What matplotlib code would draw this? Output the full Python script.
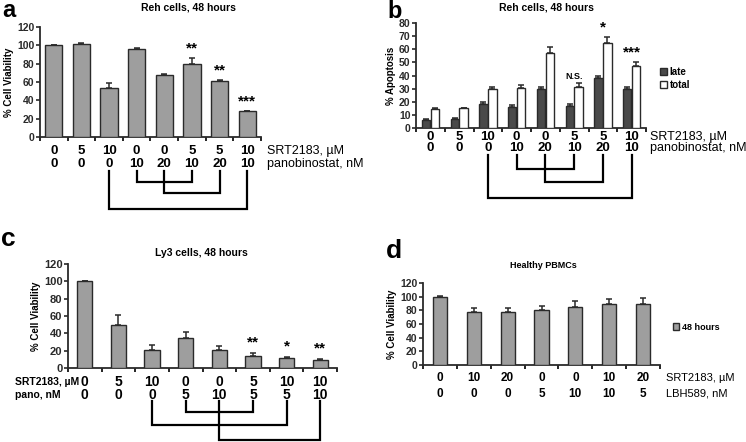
import matplotlib.pyplot as plt
import numpy as np

plt.rcParams['font.family'] = ['Liberation Sans', 'DejaVu Sans']

W, H = 746, 442
BAR = '#9e9e9e'
DARK = '#4a4a4a'
EDGE = '#2a2a2a'

# panel a: Reh cells viability
a_srt = ['0', '5', '10', '0', '0', '5', '5', '10']
a_pano = ['0', '0', '0', '10', '20', '10', '20', '10']
a_vals = [100, 102, 54, 96, 68, 80, 61, 28]
a_err = [0.5, 0.5, 5, 1, 1, 6, 1, 0.5]
a_stars = ['', '', '', '', '', '**', '**', '***']
a_pairs = [(3, 5), (4, 6), (2, 7)]

# panel b: Reh cells apoptosis
b_srt = ['0', '5', '10', '0', '0', '5', '5', '10']
b_pano = ['0', '0', '0', '10', '20', '10', '20', '10']
b_late = [6, 7, 18, 16, 29.5, 17, 38, 29.5]
b_late_err = [0.5, 0.5, 1.5, 1.5, 1.5, 1, 2, 2]
b_total = [14.5, 15, 29.5, 30.5, 57.5, 31.5, 64.5, 47]
b_total_err = [1, 0.5, 1.5, 2, 4, 2.5, 5, 3.5]
b_stars = ['', '', '', '', '', 'N.S.', '*', '***']
b_pairs = [(3, 5), (4, 6), (2, 7)]

# panel c: Ly3 cells viability
c_srt = ['0', '5', '10', '0', '0', '5', '10', '10']
c_pano = ['0', '0', '0', '5', '10', '5', '5', '10']
c_vals = [100, 50, 21, 35, 21, 14, 11, 9]
c_err = [0.5, 11, 6, 6, 4, 3, 2, 1]
c_stars = ['', '', '', '', '', '**', '*', '**']
c_pairs = [(3, 5), (2, 6), (4, 7)]

# panel d: healthy PBMCs
d_srt = ['0', '10', '20', '0', '0', '10', '20']
d_lbh = ['0', '0', '0', '5', '10', '10', '5']
d_vals = [100, 77, 78, 80, 85, 89, 90]
d_err = [0.5, 6, 6, 7, 8, 7, 8]

fig = plt.figure(figsize=(W / 100, H / 100), dpi=100)


def make_ax(left, right, y0, ytop, n, ymax, step, tick_fs):
    ax = fig.add_axes([left / W, 1 - y0 / H, (right - left) / W, (y0 - ytop) / H])
    ax.set_xlim(-0.5, n - 0.5)
    ax.set_ylim(0, ymax)
    ax.set_yticks(np.arange(0, ymax + 1, step))
    ax.set_xticks(np.arange(-0.5, n, 1.0))
    ax.set_xticklabels([])
    for s in ['top', 'right']:
        ax.spines[s].set_visible(False)
    for s in ['left', 'bottom']:
        ax.spines[s].set_linewidth(1.3)
        ax.spines[s].set_color(EDGE)
    ax.tick_params(axis='y', direction='out', length=3, width=1.2, pad=1,
                   labelsize=tick_fs, colors=EDGE)
    ax.tick_params(axis='x', direction='out', length=3, width=1.2)
    for t in ax.get_yticklabels():
        t.set_fontweight('bold')
    ax.patch.set_alpha(0)
    return ax


def rows(ax, y0, ytop, r1, r2, p1, p2, fs, bold=True):
    tr = ax.get_xaxis_transform()
    f = lambda p: (y0 - p) / (y0 - ytop)
    for i, (s1, s2) in enumerate(zip(r1, r2)):
        ax.text(i, f(p1), s1, transform=tr, ha='center', va='center',
                fontsize=fs, fontweight='bold' if bold else 'normal')
        ax.text(i, f(p2), s2, transform=tr, ha='center', va='center',
                fontsize=fs, fontweight='bold' if bold else 'normal')


def brackets(ax, y0, ytop, pairs, ystart, ylevels):
    tr = ax.get_xaxis_transform()
    f = lambda p: (y0 - p) / (y0 - ytop)
    for (i, j), yl in zip(pairs, ylevels):
        ax.plot([i, i, j, j], [f(ystart), f(yl), f(yl), f(ystart)],
                transform=tr, color='black', lw=1.6, clip_on=False,
                solid_joinstyle='miter')


def stars(ax, tops, labels, off, fs=11):
    for i, (t, s) in enumerate(zip(tops, labels)):
        if s:
            small = s == 'N.S.'
            ax.text(i, t + off, s, ha='center', va='bottom',
                    fontsize=6.5 if small else fs, fontweight='bold')


def ptext(x, y, s, **kw):
    fig.text(x / W, 1 - y / H, s, **kw)


ekw = dict(fmt='none', ecolor=EDGE, elinewidth=1.1, capsize=2.5, capthick=1.1)

# ---------------- panel a ----------------
ya0, yat = 137, 27
ax = make_ax(40, 261, ya0, yat, 8, 120, 20, 7.5)
x = np.arange(8)
ax.bar(x, a_vals, 0.62, color=BAR, edgecolor=EDGE, linewidth=1.0, zorder=3)
ax.errorbar(x, a_vals, yerr=[np.zeros(8), a_err], zorder=4, **ekw)
ax.set_ylabel('% Cell Viability', fontsize=7, fontweight='bold', labelpad=2)
stars(ax, np.array(a_vals) + np.array(a_err), a_stars, 3)
rows(ax, ya0, yat, a_srt, a_pano, 151, 164, 9.5)
brackets(ax, ya0, yat, a_pairs, 171, [182, 193, 209])
ptext(267, 151, 'SRT2183, µM', fontsize=9, va='center')
ptext(267, 164, 'panobinostat, nM', fontsize=9, va='center')
ptext(188, 7, 'Reh cells, 48 hours', fontsize=7.5, fontweight='bold', ha='center', va='center')
ptext(2, 17, 'a', fontsize=17, fontweight='bold', va='baseline')

# ---------------- panel b ----------------
yb0, ybt = 128, 23
ax = make_ax(416, 646, yb0, ybt, 8, 80, 10, 7.5)
w = 0.29
ax.bar(x - w / 2 - 0.01, b_late, w, color=DARK, edgecolor=EDGE, linewidth=1.0, zorder=3, label='late')
ax.bar(x + w / 2 + 0.01, b_total, w, color='white', edgecolor=EDGE, linewidth=1.0, zorder=3, label='total')
ax.errorbar(x - w / 2 - 0.01, b_late, yerr=[np.zeros(8), b_late_err], zorder=4, **dict(ekw, capsize=2))
ax.errorbar(x + w / 2 + 0.01, b_total, yerr=[np.zeros(8), b_total_err], zorder=4, **dict(ekw, capsize=2))
ax.set_ylabel('% Apoptosis', fontsize=7, fontweight='bold', labelpad=2)
stars(ax, np.array(b_total) + np.array(b_total_err), b_stars, 2)
rows(ax, yb0, ybt, b_srt, b_pano, 137, 148, 9.5)
brackets(ax, yb0, ybt, b_pairs, 155, [169, 182, 198])
ptext(650, 137, 'SRT2183, µM', fontsize=9, va='center')
ptext(650, 148, 'panobinostat, nM', fontsize=9, va='center')
ptext(546, 7, 'Reh cells, 48 hours', fontsize=7.5, fontweight='bold', ha='center', va='center')
ptext(387, 18, 'b', fontsize=17, fontweight='bold', va='baseline')
ax.legend(loc='upper left', bbox_to_anchor=(655 / W, 1 - 62 / H), bbox_transform=fig.transFigure,
          frameon=False, handlelength=0.7, handleheight=0.7, handletextpad=0.3,
          labelspacing=0.35, borderpad=0, prop={'size': 7, 'weight': 'bold'})

# ---------------- panel c ----------------
yc0, yct = 368, 264
ax = make_ax(68, 337, yc0, yct, 8, 120, 20, 8)
ax.bar(x, c_vals, 0.45, color=BAR, edgecolor=EDGE, linewidth=1.0, zorder=3)
ax.errorbar(x, c_vals, yerr=[np.zeros(8), c_err], zorder=4, **ekw)
ax.set_ylabel('% Cell Viability', fontsize=7, fontweight='bold', labelpad=2)
stars(ax, np.array(c_vals) + np.array(c_err), c_stars, 4)
rows(ax, yc0, yct, c_srt, c_pano, 382, 395, 10)
brackets(ax, yc0, yct, c_pairs, 401, [412, 425, 440])
ptext(15, 382, 'SRT2183, µM', fontsize=7.5, fontweight='bold', va='center')
ptext(15, 395, 'pano, nM', fontsize=7.5, fontweight='bold', va='center')
ptext(201, 253, 'Ly3 cells, 48 hours', fontsize=7.5, fontweight='bold', ha='center', va='center')
ptext(1, 246, 'c', fontsize=19, fontweight='bold', va='baseline')

# ---------------- panel d ----------------
yd0, ydt = 365, 283
ax = make_ax(423, 660, yd0, ydt, 7, 120, 20, 7.5)
xd = np.arange(7)
ax.bar(xd, d_vals, 0.42, color=BAR, edgecolor=EDGE, linewidth=1.0, zorder=3, label='48 hours')
ax.errorbar(xd, d_vals, yerr=[np.zeros(7), d_err], zorder=4, **ekw)
ax.set_ylabel('% Cell Viability', fontsize=7, fontweight='bold', labelpad=2)
rows(ax, yd0, ydt, d_srt, d_lbh, 378, 394, 8.5)
ptext(666, 378, 'SRT2183, µM', fontsize=8, va='center')
ptext(666, 394, 'LBH589, nM', fontsize=8, va='center')
ptext(543, 266, 'Healthy PBMCs', fontsize=6.5, fontweight='bold', ha='center', va='center')
ptext(386, 258, 'd', fontsize=19, fontweight='bold', va='baseline')
ax.legend(loc='upper left', bbox_to_anchor=(668 / W, 1 - 318 / H), bbox_transform=fig.transFigure,
          frameon=False, handlelength=0.7, handleheight=0.7, handletextpad=0.3,
          borderpad=0, prop={'size': 6.5, 'weight': 'bold'})

fig.savefig('out.png', dpi=100)
